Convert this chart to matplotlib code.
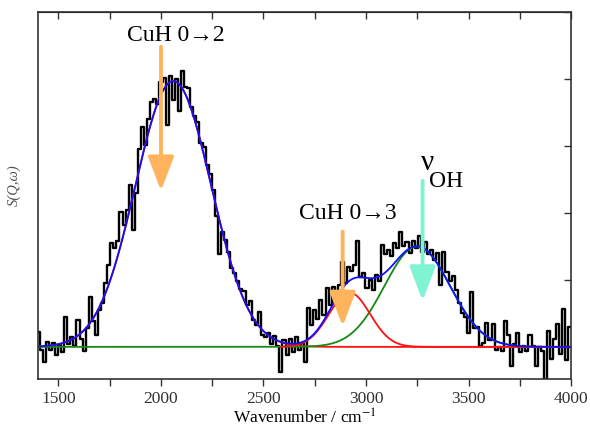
import numpy as np
import matplotlib
matplotlib.use("Agg")
import matplotlib.pyplot as plt
from matplotlib.ticker import MultipleLocator

plt.rcParams['font.family'] = ['Liberation Serif', 'DejaVu Serif']
plt.rcParams['mathtext.fontset'] = 'stix'

# measured spectrum, 15 cm-1 bins starting at 1400 cm-1
wavenumber_start = 1400
wavenumber_step = 15
intensity = [
    0.22, -0.05, -0.22, 0.08, -0.04, 0.06, -0.12, 0.03, -0.08, 0.44,
    0.05, 0.15, 0.02, 0.40, 0.12, -0.06, 0.28, 0.74, 0.38, 0.18,
    0.55, 0.66, 0.95, 1.22, 1.55, 1.48, 1.58, 2.02, 1.82, 2.05,
    2.42, 1.74, 2.30, 2.95, 3.28, 3.02, 3.40, 3.66, 3.70, 3.62,
    3.95, 4.02, 3.32, 4.05, 3.68, 4.00, 3.52, 4.12, 3.88, 3.86,
    3.58, 3.45, 3.36, 3.05, 2.98, 2.72, 2.58, 2.34, 1.96, 1.38,
    1.72, 1.60, 1.42, 1.18, 1.10, 0.98, 0.86, 0.84, 0.62, 0.68,
    0.40, 0.32, 0.52, 0.18, 0.14, 0.20, 0.05, 0.16, 0.02, -0.38,
    0.10, -0.12, 0.12, -0.08, 0.14, -0.05, 0.06, -0.22, 0.58, 0.32,
    0.55, 0.42, 0.70, 0.48, 0.88, 0.62, 0.90, 0.78, 0.92, 1.26,
    0.95, 1.20, 1.14, 1.22, 1.58, 1.05, 1.10, 0.88, 1.00, 0.85,
    1.08, 0.98, 1.52, 1.38, 1.45, 1.36, 1.55, 1.48, 1.72, 1.50,
    1.56, 1.40, 1.58, 1.48, 1.66, 1.42, 1.56, 1.38, 1.44, 1.30,
    1.40, 0.92, 1.42, 1.12, 0.98, 1.06, 0.85, 0.65, 0.50, 0.44,
    0.20, 0.82, 0.28, 0.30, 0.02, 0.06, 0.36, 0.10, 0.34, -0.04,
    0.00, -0.06, 0.38, 0.18, -0.28, 0.05, 0.20, -0.08, 0.02, -0.06,
    0.18, 0.02, -0.28, 0.00, -0.06, -0.52, 0.24, -0.18, 0.12, 0.34,
    -0.10, 0.56, -0.20, 0.30,
]
wavenumber = wavenumber_start + wavenumber_step * np.arange(len(intensity))

# fitted gaussian components: CuH 0->2, CuH 0->3, nu_OH
peak_centers = [2060, 2920, 3250]
peak_heights = [3.97, 0.81, 1.50]
peak_sigmas = [185, 100, 160]

xf = np.linspace(1400, 4000, 1200)
comps = [h * np.exp(-(xf - c) ** 2 / (2 * s ** 2))
         for c, h, s in zip(peak_centers, peak_heights, peak_sigmas)]
total = comps[0] + comps[1] + comps[2]
right = xf >= 2580

fig = plt.figure(figsize=(5.9, 4.31), dpi=100)
ax = fig.add_axes([0.0644, 0.1183, 0.9034, 0.8515])

ax.plot(wavenumber, intensity, drawstyle='steps-mid', color='black', lw=1.7)
ax.plot(xf, comps[0], color='#ff1010', lw=1.3)
ax.plot(xf, comps[2], color='#138a13', lw=1.3)
ax.plot(xf[right], comps[1][right], color='#ff1010', lw=1.3)
ax.plot(xf, total, color='#1010ff', lw=1.3)

orange = '#ffb35c'
aqua = '#80f3d2'
arrow_style = '-|>,head_width=0.42,head_length=1.1'
for x0, y_tip, y_tail, col in [(2000, 2.33, 4.48, orange),
                               (2886, 0.31, 1.72, orange),
                               (3276, 0.69, 2.48, aqua)]:
    ax.annotate('', xy=(x0, y_tip), xytext=(x0, y_tail),
                arrowprops=dict(arrowstyle=arrow_style, color=col, lw=2.8,
                                mutation_scale=19, shrinkA=0, shrinkB=0))

ax.text(2071, 4.66, 'CuH 0\u21922', fontsize=17, ha='center', va='center')
ax.text(2910, 2.01, 'CuH 0\u21923', fontsize=17, ha='center', va='center')
ax.text(3300, 2.76, '\u03bd', fontsize=21, ha='center', va='center')
ax.text(3392, 2.49, 'OH', fontsize=17, ha='center', va='center')

ax.set_xlim(1400, 4000)
ax.set_ylim(-0.48, 5.0)

ax.xaxis.set_major_locator(MultipleLocator(500))
ax.xaxis.set_minor_locator(MultipleLocator(250))
ax.yaxis.set_major_locator(MultipleLocator(2))
ax.yaxis.set_minor_locator(MultipleLocator(1))
ax.tick_params(axis='x', which='both', bottom=True, top=False, direction='out',
               length=5, width=1, labelsize=12.5, colors='#333333', pad=3)
ax.tick_params(axis='y', which='both', left=False, right=True, direction='in',
               length=5, width=1, labelleft=False, colors='#333333')

# inward ticks along the top edge
top = ax.secondary_xaxis('top')
top.xaxis.set_major_locator(MultipleLocator(500))
top.xaxis.set_minor_locator(MultipleLocator(250))
top.tick_params(which='both', direction='in', length=5, width=1,
                labeltop=False, colors='#333333')

for sp in ax.spines.values():
    sp.set_linewidth(1.2)
    sp.set_color('#333333')

ax.set_xlabel('Wavenumber / cm$^{-1}$', fontsize=12.5, labelpad=1)
ax.set_ylabel('S(Q,\u03c9)', fontsize=10.5, style='italic', color='#555555')
ax.yaxis.set_label_coords(-0.032, 0.53)

fig.savefig('out.png', dpi=100)
